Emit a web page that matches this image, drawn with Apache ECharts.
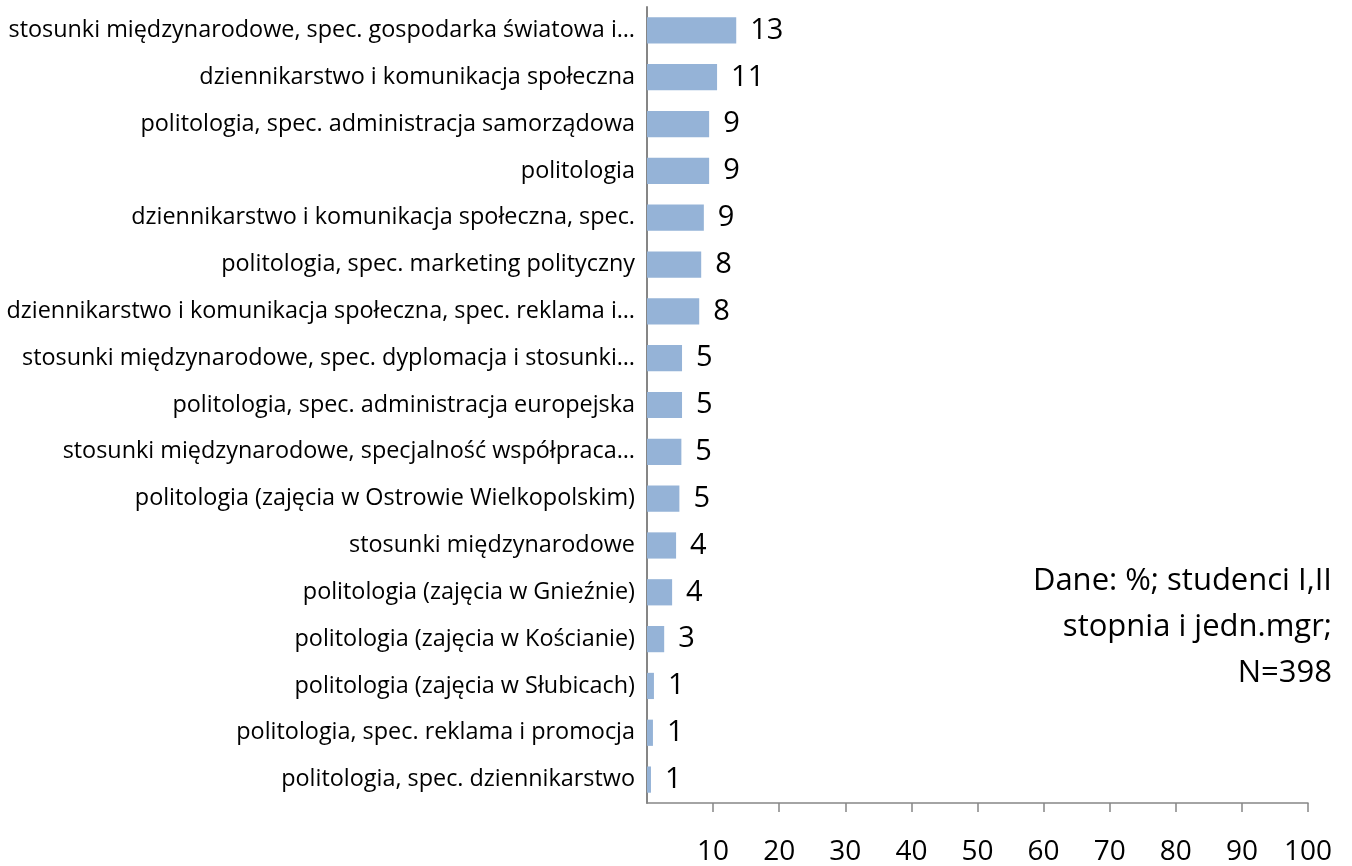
<!DOCTYPE html>
<html>
<head>
<meta charset="UTF-8">
<title>Kierunki studiów</title>
<script src="https://cdn.jsdelivr.net/npm/echarts@6/dist/echarts.min.js"></script>
<style>
	html, body { margin: 0; padding: 0; background: #fff; }
	#chart { width: 1352px; height: 866px; }
</style>
</head>
<body>
<div id="chart"></div>
<script type="text/javascript">

	var categories = [
		'stosunki międzynarodowe, spec. gospodarka światowa i…',
		'dziennikarstwo i komunikacja społeczna',
		'politologia, spec. administracja samorządowa',
		'politologia',
		'dziennikarstwo i komunikacja społeczna, spec.',
		'politologia, spec. marketing polityczny',
		'dziennikarstwo i komunikacja społeczna, spec. reklama i…',
		'stosunki międzynarodowe, spec. dyplomacja i stosunki…',
		'politologia, spec. administracja europejska',
		'stosunki międzynarodowe, specjalność współpraca…',
		'politologia (zajęcia w Ostrowie Wielkopolskim)',
		'stosunki międzynarodowe',
		'politologia (zajęcia w Gnieźnie)',
		'politologia (zajęcia w Kościanie)',
		'politologia (zajęcia w Słubicach)',
		'politologia, spec. reklama i promocja',
		'politologia, spec. dziennikarstwo'
	];

	// percentages
	var values = [13.5, 10.6, 9.4, 9.4, 8.6, 8.2, 7.9, 5.3, 5.3, 5.2, 4.9, 4.4, 3.8, 2.6, 1.05, 0.9, 0.6];

	// labels printed next to the bars
	var valueLabels = [13, 11, 9, 9, 9, 8, 8, 5, 5, 5, 5, 4, 4, 3, 1, 1, 1];

	var axisTicks = [0, 10, 20, 30, 40, 50, 60, 70, 80, 90, 100];

	var noteLines = ['Dane: %; studenci I,II', 'stopnia i jedn.mgr;', 'N=398'];

	var font = '"Open Sans", "Liberation Sans", sans-serif';

	var chart = echarts.init(document.getElementById('chart'));

	// one text element per note line, right aligned
	var notes = [];
	for (var i = 0; i < noteLines.length; i++) {
		notes.push({
			type : 'text',
			right : 20,
			top : 566 + i * 46,
			style : {
				text : noteLines[i],
				fill : '#000',
				fontFamily : font,
				fontSize : 31
			}
		});
	}

	var option = {
		animation : false,
		grid : {
			left : 647,
			right : 44,
			top : 7,
			bottom : 63,
			containLabel : false
		},
		xAxis : {
			type : 'value',
			min : axisTicks[0],
			max : axisTicks[axisTicks.length - 1],
			interval : 10,
			splitLine : { show : false },
			axisLine : { show : true, lineStyle : { color : '#868686', width : 1.5 } },
			axisTick : { show : true, length : 9, lineStyle : { color : '#868686', width : 1.5 } },
			axisLabel : {
				showMinLabel : false,
				margin : 35,
				color : '#000',
				fontFamily : font,
				fontSize : 28
			}
		},
		yAxis : {
			type : 'category',
			inverse : true,
			data : categories,
			axisLine : { show : true, lineStyle : { color : '#868686', width : 2 } },
			axisTick : { show : false },
			axisLabel : {
				margin : 12,
				color : '#000',
				fontFamily : font,
				fontSize : 23.4
			}
		},
		series : [ {
			type : 'bar',
			data : values,
			barWidth : '56%',
			itemStyle : { color : '#95B3D7' },
			label : {
				show : true,
				position : 'right',
				distance : 14,
				color : '#000',
				fontFamily : font,
				fontSize : 29,
				formatter : function(p) {
					return valueLabels[p.dataIndex];
				}
			}
		} ],
		graphic : notes
	};

	chart.setOption(option);
</script>
</body>
</html>
